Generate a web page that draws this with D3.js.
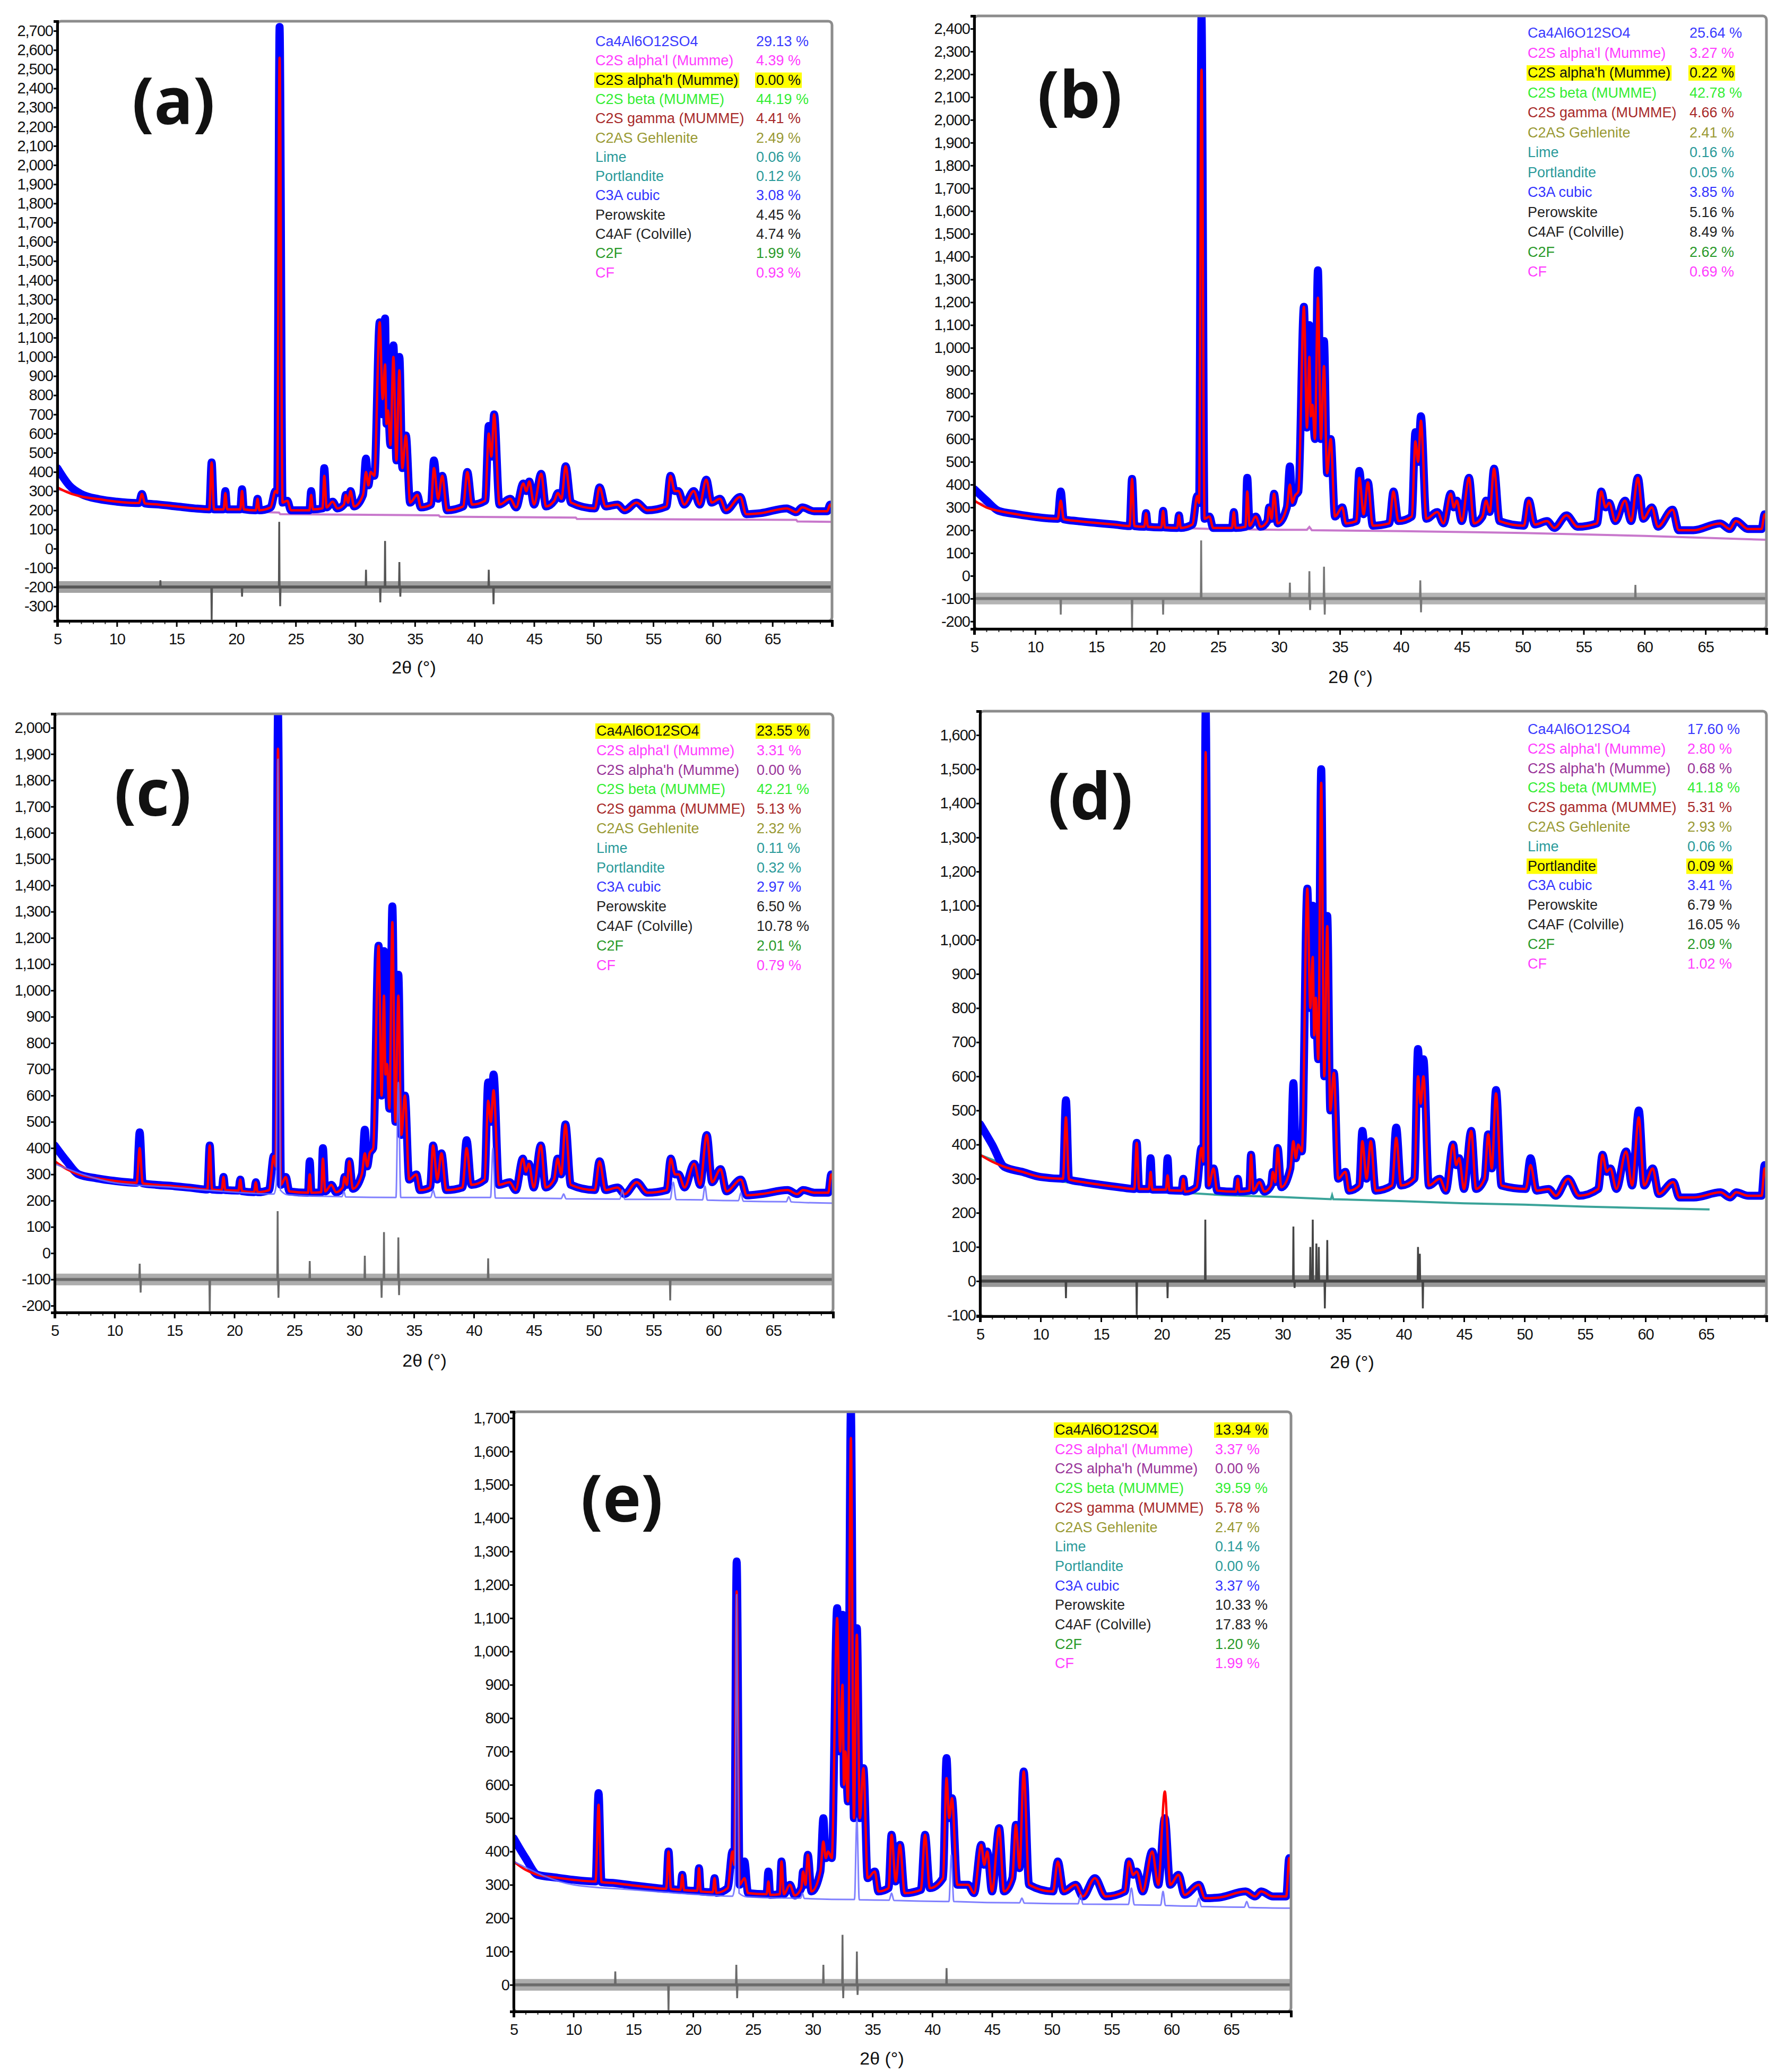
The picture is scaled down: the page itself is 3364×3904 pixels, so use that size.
<!DOCTYPE html>
<html>
<head>
<meta charset="utf-8">
<script src="https://cdn.jsdelivr.net/npm/d3@7"></script>
<style>
body { margin: 0; background: #fff; }
text { font-family: "Liberation Sans", Arial, sans-serif; }
</style>
</head>
<body>
<svg id="chart"></svg>
<script>
var width = 3364
var height = 3904

// 2theta positions of the profile vertices (valleys and peak tops), shared by all patterns
var tth = [
  5.0, 6.0, 7.0, 8.5, 10.0, 11.85, 12.1, 12.35, 13.5, 15.0,
  16.5, 17.75, 17.95, 18.15, 18.95, 19.1, 19.25, 20.35, 20.5, 20.65,
  21.65, 21.8, 21.95, 22.9, 23.3, 23.45, 23.65, 23.9, 24.3, 24.6,
  26.15, 26.3, 26.45, 27.25, 27.4, 27.6, 28.1, 28.5, 29.05, 29.2,
  29.4, 29.6, 29.9, 30.65, 30.9, 31.1, 31.3, 31.6, 32.05, 32.3,
  32.5, 32.62, 32.75, 32.95, 33.2, 33.45, 33.7, 33.95, 34.25, 34.6,
  35.2, 35.5, 36.35, 36.6, 36.95, 37.3, 37.7, 39.05, 39.4, 39.8,
  40.9, 41.2, 41.42, 41.65, 42.1, 43.0, 43.5, 44.1, 44.35, 44.6,
  45.0, 45.6, 46.0, 46.7, 47.0, 47.3, 47.65, 48.1, 50.1, 50.5,
  51.0, 52.0, 52.6, 53.6, 54.5, 56.1, 56.45, 56.8, 57.1, 57.6,
  58.4, 58.9, 59.45, 59.9, 60.6, 61.1, 62.3, 62.8, 64.0, 66.2,
  67.0, 67.5, 68.5, 69.6, 69.85, 70.0
]

// calculated profiles (counts) at tth
var calcA = [
  320, 290, 272, 258, 245, 238, 285, 236, 230, 220,
  210, 205, 450, 205, 205, 290, 205, 205, 300, 205,
  200, 260, 200, 215, 300, 290, 2560, 240, 250, 200,
  200, 280, 205, 210, 380, 215, 245, 210, 230, 280,
  240, 300, 220, 280, 400, 330, 400, 380, 1180, 780,
  960, 650, 720, 540, 1000, 460, 930, 420, 590, 240,
  280, 215, 230, 420, 260, 380, 200, 220, 400, 230,
  250, 600, 480, 700, 230, 260, 215, 340, 300, 350,
  230, 390, 220, 250, 290, 260, 430, 240, 210, 320,
  220, 230, 200, 240, 200, 220, 380, 300, 300, 230,
  300, 230, 360, 240, 260, 200, 270, 180, 185, 210,
  190, 215, 195, 195, 230, 215
]
var calcB = [
  330, 300, 285, 270, 258, 250, 330, 248, 240, 232,
  225, 218, 425, 218, 215, 275, 215, 212, 285, 212,
  210, 265, 210, 225, 350, 320, 2220, 250, 260, 210,
  210, 280, 210, 215, 370, 220, 260, 215, 240, 300,
  250, 360, 230, 300, 400, 320, 350, 370, 1180, 650,
  960, 700, 750, 600, 1220, 600, 920, 450, 600, 260,
  300, 230, 240, 430, 270, 410, 220, 230, 370, 240,
  260, 590, 500, 680, 250, 280, 230, 360, 300, 330,
  240, 430, 230, 260, 330, 280, 470, 240, 220, 330,
  225, 240, 210, 265, 215, 230, 370, 300, 320, 240,
  330, 240, 430, 250, 300, 215, 290, 200, 200, 230,
  205, 240, 205, 205, 270, 250
]
var calcC = [
  350, 320, 300, 285, 275, 268, 400, 266, 260, 255,
  248, 242, 410, 242, 240, 290, 240, 238, 280, 236,
  232, 270, 232, 240, 370, 330, 1920, 260, 290, 235,
  230, 300, 230, 232, 360, 235, 260, 232, 250, 290,
  260, 350, 245, 300, 380, 330, 380, 400, 1170, 600,
  980, 680, 720, 550, 1260, 500, 980, 450, 600, 280,
  300, 240, 250, 410, 280, 380, 240, 250, 400, 260,
  280, 580, 500, 620, 260, 270, 240, 360, 310, 340,
  250, 410, 250, 280, 360, 300, 490, 260, 240, 350,
  240, 250, 225, 270, 230, 240, 360, 300, 300, 250,
  340, 260, 450, 270, 320, 235, 280, 220, 225, 240,
  225, 240, 230, 230, 300, 280
]
var calcD = [
  370, 350, 335, 320, 305, 300, 480, 298, 290, 282,
  275, 270, 405, 270, 270, 320, 268, 268, 310, 266,
  265, 300, 262, 275, 390, 350, 1550, 280, 330, 265,
  262, 300, 262, 265, 370, 265, 290, 262, 280, 320,
  290, 390, 275, 330, 410, 360, 400, 380, 1150, 800,
  950, 720, 830, 650, 1460, 600, 1040, 500, 610, 300,
  320, 265, 280, 410, 300, 410, 265, 280, 420, 280,
  300, 600, 520, 600, 280, 300, 265, 400, 340, 360,
  270, 440, 270, 300, 430, 330, 550, 280, 270, 340,
  265, 270, 250, 300, 250, 270, 370, 320, 330, 270,
  380, 280, 480, 280, 330, 255, 290, 245, 245, 260,
  245, 260, 250, 250, 330, 300
]
var calcE = [
  370, 345, 330, 322, 315, 310, 540, 308, 305, 298,
  292, 288, 400, 288, 285, 330, 284, 282, 350, 280,
  278, 320, 276, 290, 400, 360, 1180, 300, 320, 275,
  272, 310, 270, 272, 370, 272, 300, 268, 290, 340,
  300, 390, 280, 340, 430, 380, 400, 380, 1100, 700,
  900, 600, 700, 550, 1640, 500, 1050, 500, 650, 320,
  340, 280, 290, 450, 310, 420, 275, 285, 450, 290,
  320, 620, 500, 560, 300, 300, 275, 420, 360, 400,
  280, 470, 280, 320, 480, 350, 640, 300, 280, 370,
  280, 300, 265, 320, 265, 280, 370, 330, 340, 280,
  400, 300, 580, 300, 330, 270, 300, 260, 262, 280,
  265, 280, 265, 265, 380, 330
]

// observed counts where they differ from the calculated profile [2theta, counts]
var obsA = [[5.0, 420], [6.0, 330], [7.0, 285], [19.1, 300], [20.5, 310], [23.65, 2720], [26.3, 300],
  [27.4, 420], [30.9, 470], [32.3, 700], [32.5, 1200], [33.2, 1060], [33.7, 1000], [36.6, 460], [41.2, 640]]
var obsB = [[5.0, 380], [6.0, 330], [12.1, 370], [23.65, 2460], [27.4, 430], [30.9, 480], [32.5, 1100],
  [33.2, 1340], [33.7, 1030], [36.6, 460], [41.2, 630], [41.65, 700]]
var obsC = [[5.0, 410], [6.0, 350], [12.1, 460], [23.65, 2060], [26.3, 350], [27.4, 400], [30.9, 470],
  [32.5, 1150], [33.2, 1320], [33.7, 1060], [39.4, 430], [41.2, 650], [41.65, 680]]
var obsD = [[5.0, 460], [6.0, 400], [12.1, 530], [19.1, 360], [20.5, 360], [23.65, 1680], [30.9, 580],
  [32.5, 1100], [33.2, 1500], [33.7, 1070], [36.6, 440], [39.4, 450], [41.2, 680], [41.65, 650],
  [47.65, 560], [50.5, 360], [59.45, 500], [69.85, 340]]
var obsE = [[5.0, 440], [6.0, 380], [12.1, 575], [23.65, 1270], [24.3, 370], [26.3, 340], [30.9, 500],
  [32.05, 1130], [32.5, 1110], [33.2, 1730], [33.7, 1070], [41.2, 680], [59.45, 500]]

// highlighted phase curve (background + phase) [2theta, counts]
var phaseA = [[5, 310], [10, 240], [15, 215], [20, 200], [22.5, 190], [23.6, 188], [23.7, 180], [37, 174],
  [37.1, 167], [48.5, 162], [48.6, 155], [67, 150], [67.1, 142], [70, 140]]
var phaseB = [[5, 325], [10, 250], [15, 226], [20, 212], [25, 205], [30, 202], [32.3, 202], [32.5, 214],
  [32.7, 200], [40, 196], [50, 188], [60, 175], [70, 158]]
var phaseC = [[5, 340], [10, 268], [15, 250], [20, 232], [23.3, 225], [23.5, 260], [23.65, 1880], [23.85, 240],
  [24.5, 222], [29.0, 215], [29.15, 235], [29.3, 214], [33.5, 212], [33.7, 650], [33.9, 212], [36.4, 212],
  [36.6, 240], [36.8, 212], [41.4, 212], [41.6, 400], [41.8, 210], [47.3, 208], [47.5, 225], [47.7, 207],
  [52.2, 206], [52.4, 240], [52.6, 205], [56.4, 205], [56.65, 270], [56.9, 204], [59.1, 203], [59.3, 255],
  [59.5, 202], [62.1, 200], [62.3, 230], [62.5, 198], [66.1, 196], [66.3, 215], [66.5, 195], [70, 190]]
var phaseD = [[5, 370], [10, 300], [15, 276], [20, 263], [25, 252], [30, 246], [34.0, 240], [34.1, 252],
  [34.2, 240], [40, 234], [45, 228], [50, 224], [55, 218], [60, 214], [65.3, 210]]
var phaseE = [[5, 370], [10, 300], [15, 285], [20, 272], [23.3, 266], [23.5, 300], [23.65, 1170], [23.85, 275],
  [24.5, 264], [29.0, 260], [29.15, 275], [29.3, 259], [33.5, 256], [33.7, 500], [33.9, 255], [36.4, 254],
  [36.6, 275], [36.8, 253], [41.4, 250], [41.6, 390], [41.8, 250], [47.3, 246], [47.5, 260], [47.7, 245],
  [52.2, 243], [52.4, 270], [52.6, 242], [56.4, 241], [56.65, 290], [56.9, 240], [59.1, 239], [59.3, 280],
  [59.5, 238], [62.1, 236], [62.3, 260], [62.5, 235], [66.1, 233], [66.3, 250], [66.5, 232], [70, 230]]

// difference curves: offset level and spikes [2theta, counts]
var diffBase = [-200, -100, -100, 0, 0]
var diffA = [[5.0, -110], [13.65, -165], [17.95, -380], [20.5, -250], [23.62, 140], [23.7, -300], [30.9, -110],
  [32.1, -280], [32.5, 40], [33.7, -70], [33.78, -250], [41.2, -110], [41.6, -290]]
var diffB = [[5.0, -60], [12.1, -170], [17.95, -230], [20.5, -170], [23.62, 155], [30.9, -30], [32.5, 20],
  [32.56, -150], [33.7, 40], [33.76, -170], [41.6, -20], [41.66, -160], [59.25, -40]]
var diffC = [[5.0, -40], [12.1, -40], [12.18, -150], [17.95, -230], [23.62, 160], [23.69, -170], [26.3, -30],
  [30.9, -10], [32.3, -170], [32.5, 80], [33.7, 60], [33.76, -160], [41.2, -20], [56.4, -180]]
var diffD = [[5.0, 80], [12.1, -50], [17.95, -100], [20.5, -50], [23.62, 180], [30.9, 160], [31.0, -20],
  [32.3, 100], [32.5, 180], [32.8, 110], [33.0, 100], [33.5, -80], [33.7, 120], [41.2, 100], [41.35, 80],
  [41.6, -80]]
var diffE = [[5.0, 80], [13.5, 40], [17.95, -80], [23.62, 60], [23.69, -40], [30.9, 60], [32.5, 150],
  [32.56, -40], [33.7, 100], [33.76, -30], [41.2, 50]]

// y tick extents
var yTicksA = [-300, 2700]
var yTicksB = [-200, 2400]
var yTicksC = [-200, 2000]
var yTicksD = [-100, 1600]
var yTicksE = [0, 1700]
var xTicks = [5, 10, 15, 20, 25, 30, 35, 40, 45, 50, 55, 60, 65]

// quantitative phase analysis (wt %)
var phaseNames = ['Ca4Al6O12SO4', "C2S alpha'l (Mumme)", "C2S alpha'h (Mumme)", 'C2S beta (MUMME)',
  'C2S gamma (MUMME)', 'C2AS Gehlenite', 'Lime', 'Portlandite', 'C3A cubic', 'Perowskite',
  'C4AF (Colville)', 'C2F', 'CF']
var phaseColors = ['#3a3aff', '#ff3cff', '#993399', '#33ee33', '#a82a2a', '#999933', '#2a9a9a', '#2a9a9a',
  '#3333ff', '#222222', '#222222', '#2a9a2a', '#ff3cff']
var pctA = [29.13, 4.39, 0.00, 44.19, 4.41, 2.49, 0.06, 0.12, 3.08, 4.45, 4.74, 1.99, 0.93]
var pctB = [25.64, 3.27, 0.22, 42.78, 4.66, 2.41, 0.16, 0.05, 3.85, 5.16, 8.49, 2.62, 0.69]
var pctC = [23.55, 3.31, 0.00, 42.21, 5.13, 2.32, 0.11, 0.32, 2.97, 6.50, 10.78, 2.01, 0.79]
var pctD = [17.60, 2.80, 0.68, 41.18, 5.31, 2.93, 0.06, 0.09, 3.41, 6.79, 16.05, 2.09, 1.02]
var pctE = [13.94, 3.37, 0.00, 39.59, 5.78, 2.47, 0.14, 0.00, 3.37, 10.33, 17.83, 1.20, 1.99]

var panels = [
  { id: 'a', l: 108, r: 1568, t: 40, b: 1170, dom: [-377, 2750], ticks: yTicksA, calc: calcA, obs: obsA,
    phase: phaseA, phaseColor: '#c878cc', phaseW: 4, phaseTop: false, diff: diffA, base: diffBase[0], diffColor: '#555',
    pct: pctA, hi: 2, legX: 1122, valX: 1425, legY: 77, legStep: 36.3, lab: [327, 187], title: [780, 1257] },
  { id: 'b', l: 1836, r: 3329, t: 30, b: 1185, dom: [-233, 2456], ticks: yTicksB, calc: calcB, obs: obsB,
    phase: phaseB, phaseColor: '#c878cc', phaseW: 4, phaseTop: false, diff: diffB, base: diffBase[1], diffColor: '#777',
    pct: pctB, hi: 2, legX: 2879, valX: 3184, legY: 61, legStep: 37.5, lab: [2035, 175], title: [2545, 1275] },
  { id: 'c', l: 103, r: 1570, t: 1345, b: 2473, dom: [-226, 2053], ticks: yTicksC, calc: calcC, obs: obsC,
    phase: phaseC, phaseColor: '#6a6aff', phaseW: 3, phaseTop: true, diff: diffC, base: diffBase[2], diffColor: '#6a6a6a',
    pct: pctC, hi: 0, legX: 1124, valX: 1426, legY: 1376, legStep: 36.8, lab: [288, 1490], title: [800, 2563] },
  { id: 'd', l: 1847, r: 3329, t: 1340, b: 2480, dom: [-103, 1670], ticks: yTicksD, calc: calcD, obs: obsD,
    phase: phaseD, phaseColor: '#3aa399', phaseW: 4, phaseTop: false, diff: diffD, base: diffBase[3], diffColor: '#444',
    pct: pctD, hi: 7, legX: 2879, valX: 3180, legY: 1373, legStep: 36.8, lab: [2055, 1497], title: [2548, 2566] },
  { id: 'e', l: 968, r: 2433, t: 2660, b: 3790, dom: [-80, 1719], ticks: yTicksE, calc: calcE, obs: obsE,
    phase: phaseE, phaseColor: '#6a6aff', phaseW: 3, phaseTop: true, diff: diffE, base: diffBase[4], diffColor: '#6a6a6a',
    pct: pctE, hi: 0, legX: 1988, valX: 2290, legY: 2693, legStep: 36.7, lab: [1172, 2820], title: [1662, 3878] }
]

var fmt = d3.formatLocale({ decimal: '.', thousands: ',', grouping: [3], currency: ['', ''], minus: '-' }).format(',')

// difference line: flat at the offset, with a narrow spike at each read value
function diffPoints(spikes, base) {
  var pts = [[4.9, base]]
  spikes.forEach(function (s) {
    pts.push([s[0] - 0.03, base], [s[0], s[1]], [s[0] + 0.03, base])
  })
  pts.push([70.1, base])
  return pts
}

var svg = d3.select('#chart')
  .attr('width', width)
  .attr('height', height)
  .attr('viewBox', '0 0 ' + width + ' ' + height)

svg.append('rect').attr('width', width).attr('height', height).attr('fill', '#fff')

panels.forEach(function (p) {
  var x = d3.scaleLinear().domain([5, 70]).range([p.l, p.r])
  var y = d3.scaleLinear().domain(p.dom).range([p.b, p.t])
  var g = svg.append('g').attr('class', 'panel-' + p.id)

  g.append('clipPath').attr('id', 'clip-' + p.id)
    .append('rect')
    .attr('x', p.l).attr('y', p.t)
    .attr('width', p.r - p.l).attr('height', p.b - p.t)

  var plot = g.append('g').attr('clip-path', 'url(#clip-' + p.id + ')')
  var smooth = d3.line().x(d => x(d[0])).y(d => y(d[1])).curve(d3.curveMonotoneX)
  var straight = d3.line().x(d => x(d[0])).y(d => y(d[1]))

  var fix = new Map(p.obs)
  var calc = tth.map((t, i) => [t, p.calc[i]])
  var obs = tth.map((t, i) => [t, fix.has(t) ? fix.get(t) : p.calc[i]])

  if (!p.phaseTop) {
    plot.append('path').attr('d', straight(p.phase))
      .attr('fill', 'none').attr('stroke', p.phaseColor).attr('stroke-width', p.phaseW)
  }
  plot.append('path').attr('d', smooth(obs))
    .attr('fill', 'none').attr('stroke', '#0000ff').attr('stroke-width', 15)
    .attr('stroke-linejoin', 'round').attr('stroke-linecap', 'round')
  plot.append('path').attr('d', smooth(calc))
    .attr('fill', 'none').attr('stroke', '#ff0000').attr('stroke-width', 4.5)
    .attr('stroke-linejoin', 'round')
  if (p.phaseTop) {
    plot.append('path').attr('d', smooth(p.phase))
      .attr('fill', 'none').attr('stroke', p.phaseColor).attr('stroke-width', p.phaseW)
      .attr('stroke-opacity', 0.85)
  }
  var dpts = diffPoints(p.diff, p.base)
  plot.append('path').attr('d', straight([[4.9, p.base], [70.1, p.base]]))
    .attr('fill', 'none').attr('stroke', p.diffColor).attr('stroke-width', 22)
    .attr('stroke-opacity', 0.55)
  plot.append('path').attr('d', straight([[4.9, p.base], [70.1, p.base]]))
    .attr('fill', 'none').attr('stroke', p.diffColor).attr('stroke-width', 6)
    .attr('stroke-opacity', 0.8)
  plot.append('path').attr('d', straight(dpts))
    .attr('fill', 'none').attr('stroke', p.diffColor).attr('stroke-width', 3.5)

  // frame
  g.append('rect')
    .attr('x', p.l).attr('y', p.t)
    .attr('width', p.r - p.l).attr('height', p.b - p.t)
    .attr('rx', 7)
    .attr('fill', 'none').attr('stroke', '#8c8c8c').attr('stroke-width', 5)

  // axes
  var yAxis = d3.axisLeft(y)
    .tickValues(d3.range(p.ticks[0], p.ticks[1] + 1, 100))
    .tickSize(7).tickPadding(1).tickFormat(fmt)
  var ya = g.append('g').attr('transform', 'translate(' + p.l + ',0)').call(yAxis)
  ya.select('.domain').attr('stroke', '#000').attr('stroke-width', 5)
  ya.selectAll('.tick line').attr('stroke', '#000').attr('stroke-width', 3)
  ya.selectAll('.tick text').attr('font-size', 29).attr('fill', '#111').attr('letter-spacing', -1)

  var xMinor = d3.axisBottom(x).tickValues(d3.range(5, 70, 1)).tickSize(6).tickFormat('')
  var xm = g.append('g').attr('transform', 'translate(0,' + p.b + ')').call(xMinor)
  xm.select('.domain').remove()
  xm.selectAll('.tick line').attr('stroke', '#333').attr('stroke-width', 2)

  var xAxis = d3.axisBottom(x).tickValues(xTicks).tickSize(11).tickPadding(12).tickFormat(d3.format('d'))
  var xa = g.append('g').attr('transform', 'translate(0,' + p.b + ')').call(xAxis)
  xa.select('.domain').attr('stroke', '#000').attr('stroke-width', 5)
  xa.selectAll('.tick line').attr('stroke', '#000').attr('stroke-width', 3)
  xa.selectAll('.tick text').attr('font-size', 29).attr('fill', '#111').attr('letter-spacing', -1)

  g.append('text')
    .attr('x', p.title[0]).attr('y', p.title[1])
    .attr('text-anchor', 'middle').attr('dominant-baseline', 'central')
    .attr('font-size', 34).attr('fill', '#111')
    .text('2θ  (°)')

  // panel label
  g.append('text')
    .attr('x', p.lab[0]).attr('y', p.lab[1])
    .attr('text-anchor', 'middle').attr('dominant-baseline', 'central')
    .style('font-family', '"Open Sans", "DejaVu Sans", sans-serif')
    .attr('font-weight', 700).attr('font-size', 122).attr('fill', '#111')
    .text('(' + p.id + ')')

  // legend of refined phases
  var leg = g.append('g')
  phaseNames.forEach(function (name, i) {
    var yy = p.legY + i * p.legStep + 10
    var isHi = i === p.hi
    var col = isHi ? '#111' : phaseColors[i]
    var t1 = leg.append('text').attr('x', p.legX).attr('y', yy)
      .attr('font-size', 27).attr('fill', col).text(name)
    var t2 = leg.append('text').attr('x', p.valX).attr('y', yy)
      .attr('font-size', 27).attr('fill', col).text(p.pct[i].toFixed(2) + ' %')
    if (isHi) {
      [t1, t2].forEach(function (t) {
        var bb = t.node().getBBox()
        leg.insert('rect', 'text')
          .attr('x', bb.x - 2).attr('y', bb.y + 1)
          .attr('width', bb.width + 4).attr('height', bb.height - 1)
          .attr('fill', '#ffff00')
      })
    }
  })
})
</script>
</body>
</html>
